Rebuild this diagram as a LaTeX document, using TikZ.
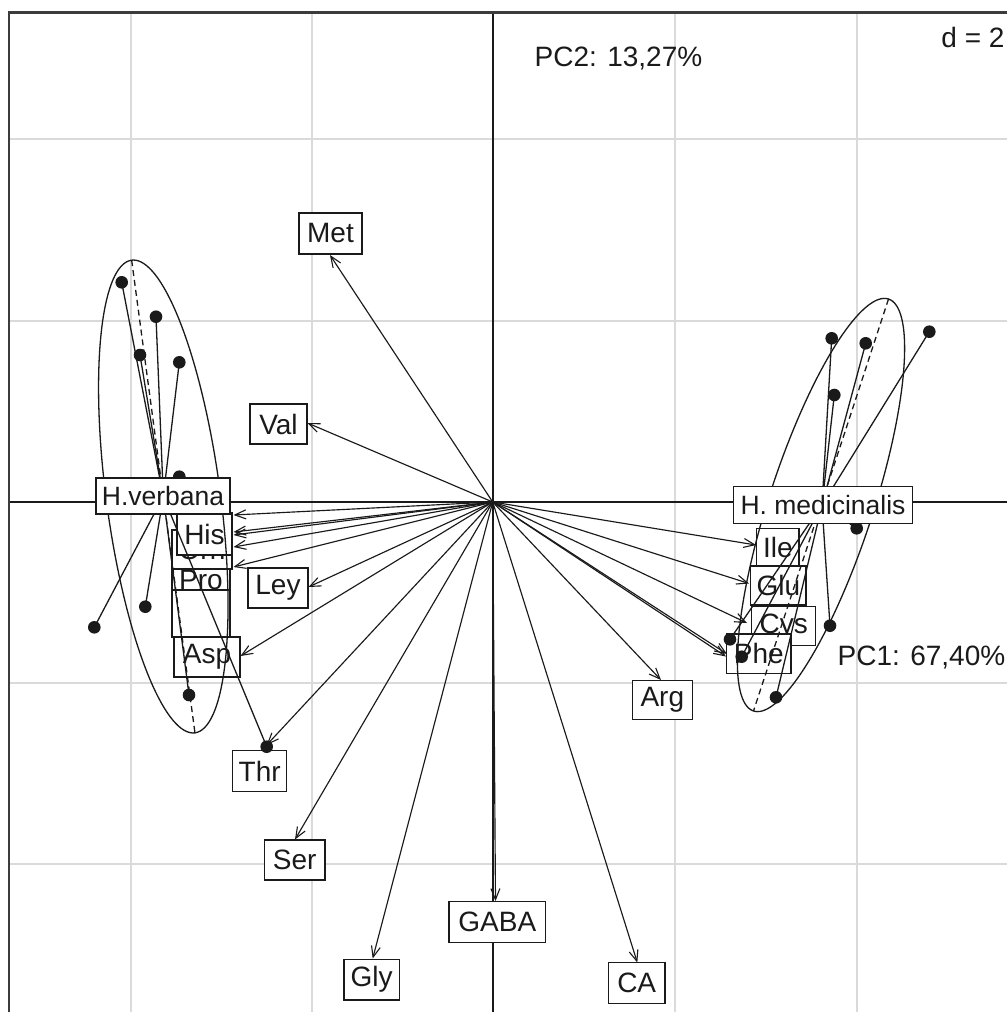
\documentclass[tikz,border=0pt]{standalone}
\usepackage{fontspec}
\setmainfont{Liberation Sans}
\usetikzlibrary{arrows.meta}
\definecolor{ink}{HTML}{1A1A1A}
\definecolor{gridc}{HTML}{DADADA}
\begin{document}
\begin{tikzpicture}[x=1pt,y=-1pt,
  gridline/.style={draw=gridc,line width=2pt},
  axisline/.style={draw=ink,line width=1.6pt},
  frameline/.style={draw=ink!85,line width=2.3pt},
  arr/.style={draw=ink,line width=1.15pt,-{Straight Barb[length=11pt,width=9pt,line width=1.1pt]}},
  lbl/.style={draw=ink,fill=white,line width=1.4pt,inner sep=0pt,text=ink,font=\fontsize{28}{30}\selectfont},
  clbl/.style={draw=ink,fill=white,line width=1.4pt,inner sep=0pt,text=ink,font=\fontsize{26.5}{28}\selectfont},
  ptxt/.style={inner sep=0pt,text=ink,font=\fontsize{28}{30}\selectfont},
  star/.style={draw=ink,line width=1.3pt},
  ell/.style={draw=ink,line width=1.3pt},
  axdash/.style={draw=ink,line width=1.3pt,dash pattern=on 6pt off 4pt},
  pt/.style={fill=ink}]
\useasboundingbox (0,0) rectangle (1007,1012);
\fill[white] (0,0) rectangle (1007,1012);
% grid
\foreach \gx in {131,312,675,857} \draw[gridline] (\gx,12.5) -- (\gx,1012);
\foreach \gy in {139,320.5,682.5,864} \draw[gridline] (9,\gy) -- (1007,\gy);
% axes
\coordinate (O) at (492.7,502);
\draw[axisline] (9,502) -- (1007,502);
\draw[axisline] (492.7,12.5) -- (492.7,1012);
% frame
\draw[frameline] (9,1012) -- (9,12.5) -- (1007,12.5);
% arrow tips
\coordinate (tMet) at (330,255);
\coordinate (tVal) at (307.5,423);
\coordinate (tA) at (233.5,515);
\coordinate (tB) at (233.5,532);
\coordinate (tC) at (233.5,535);
\coordinate (tD) at (233.5,547);
\coordinate (tE) at (233.5,567);
\coordinate (tLey) at (308.5,587);
\coordinate (tAsp) at (240.5,656);
\coordinate (tThr) at (266.7,745);
\coordinate (tSer) at (295,839.5);
\coordinate (tGly) at (372.7,958.5);
\coordinate (tGABA) at (495.5,901);
\coordinate (tCA) at (637.3,962.5);
\coordinate (tArg) at (661,680);
\coordinate (tPheA) at (727,654);
\coordinate (tPheB) at (726,656.5);
\coordinate (tCys) at (747,623);
\coordinate (tGlu) at (749,583.5);
\coordinate (tIle) at (756,545);
\foreach \t in {tMet,tVal,tA,tB,tC,tD,tE,tLey,tAsp,tThr,tSer,tGly,tGABA,tCA,tArg,tPheA,tPheB,tCys,tGlu,tIle}
  \draw[arr] (O) -- (\t);
% variable labels
\node[lbl,minimum width=63,minimum height=41] (met) at (330.5,233.5) {Met};
\node[lbl,minimum width=56.7,minimum height=40] (val) at (278.5,424) {Val};
\node[lbl,minimum width=58.3,minimum height=40] (pro) at (201,580) {Pro};
\node[lbl,minimum width=60,minimum height=39] (orn) at (202,549.5) {Orn};
\node[lbl,minimum width=55,minimum height=42] (his) at (204.5,534) {His};
\node[lbl,minimum width=58.3,minimum height=47] (blank) at (201,613.5) {};
\node[lbl,minimum width=60,minimum height=40] (ley) at (278,588) {Ley};
\node[lbl,minimum width=66,minimum height=40] (asp) at (207,657) {Asp};
\node[lbl,minimum width=54,minimum height=41] (thr) at (259.7,771.2) {Thr};
\node[lbl,minimum width=60.7,minimum height=40] (ser) at (294.7,860) {Ser};
\node[lbl,minimum width=55.3,minimum height=40.7] (gly) at (371.7,979.7) {Gly};
\node[lbl,minimum width=96.7,minimum height=40.6] (gaba) at (497.3,922) {GABA};
\node[lbl,minimum width=56.7,minimum height=40.6] (ca) at (636.7,983) {CA};
\node[lbl,minimum width=60,minimum height=38.6] (arg) at (662.3,700) {Arg};
\node[lbl,minimum width=42.3,minimum height=37.7] (ile) at (777.8,547.2) {Ile};
\node[lbl,minimum width=55.3,minimum height=39] (glu) at (778.4,585.5) {Glu};
\node[lbl,minimum width=64,minimum height=39] (cys) at (783.7,626.2) {Cys};
\node[lbl,minimum width=64.3,minimum height=39.3] (phe) at (758.8,653.7) {Phe};
% class H.verbana
\draw[ell] plot[domain=0:360,samples=140,variable=\t]
  ({163.3+31.65*cos(\t)-56.49*sin(\t)},{496.5+236.35*cos(\t)+7.56*sin(\t)}) -- cycle;
\coordinate (vTop) at (131.65,260.15);
\coordinate (vBot) at (194.95,732.85);
\draw[axdash] (vTop) -- (vBot);
\coordinate (cv) at (163.3,496.5);
\foreach \n/\px/\py in {p1/121.7/282.3,p2/156/316.7,p3/140/355,p4/179.3/362.3,p5/179.3/476.7,p6/94.3/627.3,p7/145.3/606.7,p8/189/695,p9/266.7/746.7}{
  \coordinate (\n) at (\px,\py);
  \draw[star] (cv) -- (\n);
  \fill[pt] (\n) circle (6.3);
}
% class H. medicinalis
\draw[ell] plot[domain=0:360,samples=140,variable=\t]
  ({821+67.49*cos(\t)+49.41*sin(\t)},{505-206.0*cos(\t)+16.19*sin(\t)}) -- cycle;
\coordinate (mTop) at (888.5,299);
\coordinate (mBot) at (753.5,711);
\draw[axdash] (mTop) -- (mBot);
\coordinate (cm) at (822,505);
\foreach \n/\px/\py in {q1/831.7/338.3,q2/865.7/343.3,q3/834.3/395,q4/929.3/331.7,q5/856.7/528.3,q6/830/625.7,q7/730/639.3,q8/741.7/656.7,q9/776/697.3}{
  \coordinate (\n) at (\px,\py);
  \draw[star] (cm) -- (\n);
  \fill[pt] (\n) circle (6.3);
}
% class labels
\node[clbl,minimum width=134,minimum height=36] (hv) at (163,496) {H.verbana};
\node[clbl,minimum width=179.4,minimum height=36.6] (hm) at (823,505) {H. medicinalis};
% texts
\node[ptxt] (pc2) at (618.5,59) {PC2: 13,27\%};
\node[ptxt] (pc1) at (921.5,658) {PC1: 67,40\%};
\node[ptxt] (dd) at (973,37) {d = 2};
\end{tikzpicture}
\end{document}
